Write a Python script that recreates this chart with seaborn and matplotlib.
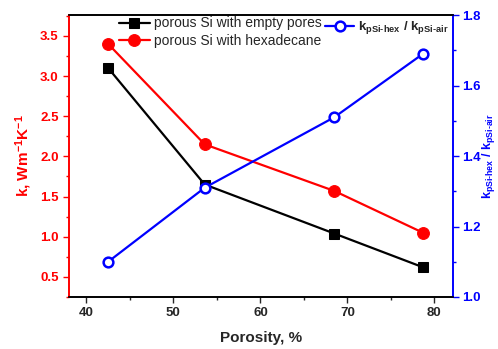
import matplotlib
matplotlib.use("Agg")
import matplotlib.pyplot as plt
import seaborn as sns
import pandas as pd
from matplotlib.ticker import MultipleLocator

porosity = [42.5, 53.6, 68.5, 78.7]
k_empty = [3.10, 1.65, 1.04, 0.62]
k_hex = [3.40, 2.15, 1.57, 1.05]
ratio = [1.10, 1.31, 1.51, 1.69]

sns.set_style("ticks")
plt.rcParams['font.family'] = ['Liberation Sans', 'DejaVu Sans']
plt.rcParams['mathtext.fontset'] = 'custom'
plt.rcParams['mathtext.rm'] = 'Liberation Sans:bold'
plt.rcParams['mathtext.it'] = 'Liberation Sans:bold'
plt.rcParams['mathtext.bf'] = 'Liberation Sans:bold'

df = pd.DataFrame({"porosity": porosity, "empty": k_empty, "hex": k_hex, "ratio": ratio})

fig = plt.figure(figsize=(4.98, 3.49), dpi=100)
ax = fig.add_axes([0.1386, 0.149, 0.772, 0.808])
ax2 = ax.twinx()

sns.lineplot(data=df, x="porosity", y="empty", ax=ax, color="black", marker="s",
             markersize=7, markeredgecolor="black", linewidth=1.6,
             label="porous Si with empty pores")
sns.lineplot(data=df, x="porosity", y="hex", ax=ax, color="red", marker="o",
             markersize=8.5, markeredgecolor="red", linewidth=1.6,
             label="porous Si with hexadecane")
ratio_label = r"k$_{\mathregular{pSi\text{-}hex}}$ / k$_{\mathregular{pSi\text{-}air}}$"
sns.lineplot(data=df, x="porosity", y="ratio", ax=ax2, color="blue", marker="o",
             markersize=7, markerfacecolor="white", markeredgecolor="blue",
             markeredgewidth=1.8, linewidth=1.6, label=ratio_label)

ax.set_xlim(38, 82.2)
ax.set_ylim(0.25, 3.76)
ax2.set_ylim(1.0, 1.8)

ax.xaxis.set_major_locator(MultipleLocator(10))
ax.xaxis.set_minor_locator(MultipleLocator(5))
ax.yaxis.set_major_locator(MultipleLocator(0.5))
ax.yaxis.set_minor_locator(MultipleLocator(0.25))
ax2.yaxis.set_major_locator(MultipleLocator(0.2))
ax2.yaxis.set_minor_locator(MultipleLocator(0.1))

ax.set_xlabel("Porosity, %", fontsize=11, fontweight="bold", labelpad=8)
ax.set_ylabel(r"k, Wm$^{\mathregular{-1}}$K$^{\mathregular{-1}}$", fontsize=11,
              fontweight="bold", color="red", labelpad=4)
ax2.set_ylabel(ratio_label, fontsize=9, fontweight="bold", color="blue")
ax2.yaxis.set_label_coords(1.068, 0.5)

for lab in ax.get_xticklabels():
    lab.set_fontweight("bold")
for lab in ax.get_yticklabels():
    lab.set_fontweight("bold")
    lab.set_color("red")
for lab in ax2.get_yticklabels():
    lab.set_fontweight("bold")
    lab.set_color("blue")

ax.tick_params(axis="x", which="major", direction="out", length=4, width=1, labelsize=9.5)
ax.tick_params(axis="x", which="minor", direction="out", length=2.5, width=1)
ax.tick_params(axis="y", which="major", direction="out", length=4, width=1,
               labelsize=9.5, colors="red")
ax.tick_params(axis="y", which="minor", direction="out", length=2.5, width=1, colors="red")
ax2.tick_params(axis="y", which="major", direction="out", length=4, width=1,
                labelsize=9.5, colors="blue", pad=2.5)
ax2.tick_params(axis="y", which="minor", direction="out", length=2.5, width=1, colors="blue")

for a in (ax, ax2):
    a.spines["top"].set_visible(True)
    a.spines["top"].set_color("black")
    a.spines["bottom"].set_color("black")
    a.spines["left"].set_color("red")
    a.spines["right"].set_color("blue")
    for s in a.spines.values():
        s.set_linewidth(1.2)

leg1 = ax.legend(loc="upper left", bbox_to_anchor=(0.13, 0.995), frameon=False,
                 fontsize=10, handlelength=2.2, handletextpad=0.3,
                 labelspacing=0.25, borderaxespad=0, borderpad=0)
leg2 = ax2.legend(loc="upper right", bbox_to_anchor=(0.988, 0.985), frameon=False,
                  fontsize=9.5, handlelength=2.2, handletextpad=0.3,
                  borderaxespad=0, borderpad=0)
for t in leg2.get_texts():
    t.set_fontweight("bold")

fig.savefig("out.png", dpi=100)
